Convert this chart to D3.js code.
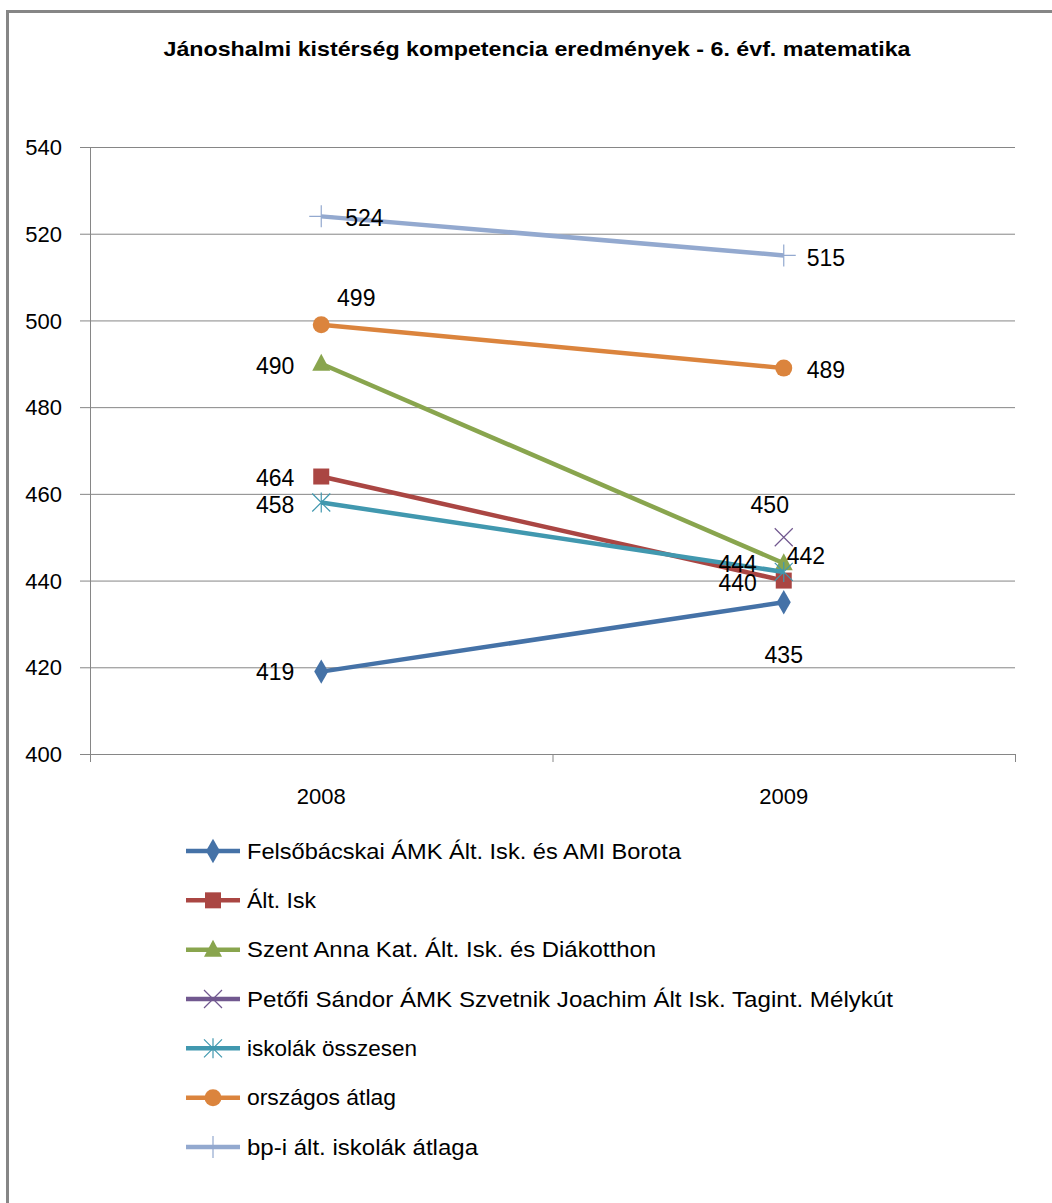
<!DOCTYPE html>
<html>
<head>
<meta charset="utf-8">
<script src="https://cdn.jsdelivr.net/npm/d3@7"></script>
<style>
  body { margin: 0; background: #fff; }
  text { font-family: "Liberation Sans", Arial, sans-serif; fill: #000; }
</style>
</head>
<body>
<script>
// data
const years = ["2008", "2009"];
const seriesNames = [
  "Felsőbácskai ÁMK Ált. Isk. és AMI Borota",
  "Ált. Isk",
  "Szent Anna Kat. Ált. Isk. és Diákotthon",
  "Petőfi Sándor ÁMK Szvetnik Joachim Ált Isk. Tagint. Mélykút",
  "iskolák összesen",
  "országos átlag",
  "bp-i ált. iskolák átlaga"
];
const felsobacskai = [419, 435];
const altIsk = [464, 440];
const szentAnna = [490, 444];
const petofi = [null, 450];
const osszesen = [458, 442];
const orszagos = [499, 489];
const bpAtlag = [524, 515];
const yTicks = [400, 420, 440, 460, 480, 500, 520, 540];

const allValues = [felsobacskai, altIsk, szentAnna, petofi, osszesen, orszagos, bpAtlag];

// styling
const colors = ["#4572A7", "#AA4643", "#89A54E", "#71588F", "#4198AF", "#DB843D", "#93A9CF"];
const markers = ["diamond", "square", "triangle", "x", "star", "circle", "plus"];
// label placement relative to the point: [dx, dy, anchor]
const labelPos = [
  [[-27, 0, "end"], [0, 53, "middle"]],
  [[-27, 1, "end"], [-27, 2, "end"]],
  [[-27, 2, "end"], [-27, 1, "end"]],
  [null, [-14, -32, "middle"]],
  [[-27, 2, "end"], [3, -16, "start"]],
  [[35, -27, "middle"], [23, 2, "start"]],
  [[24, 2, "start"], [23, 3, "start"]]
];
// legend text widths as measured on the picture
const legendWidths = [434, 69, 409, 646, 170, 149, 231];

const W = 1052, H = 1203;
const svg = d3.select("body").append("svg").attr("width", W).attr("height", H);

// outer frame (only top and left visible)
svg.append("line").attr("x1", 6).attr("x2", W).attr("y1", 11.5).attr("y2", 11.5)
  .attr("stroke", "#868686").attr("stroke-width", 3);
svg.append("line").attr("x1", 7.5).attr("x2", 7.5).attr("y1", 10).attr("y2", H)
  .attr("stroke", "#868686").attr("stroke-width", 3);

svg.append("text")
  .attr("x", 537).attr("y", 56)
  .attr("text-anchor", "middle")
  .style("font-size", "21px").style("font-weight", "bold")
  .attr("textLength", 747).attr("lengthAdjust", "spacingAndGlyphs")
  .text("Jánoshalmi kistérség kompetencia eredmények - 6. évf. matematika");

const plotL = 90, plotR = 1015, plotT = 147, plotB = 754;

const x = d3.scaleBand().domain(years).range([plotL, plotR]);
const y = d3.scaleLinear().domain([400, 540]).range([plotB, plotT]);
const cx = d => x(d) + x.bandwidth() / 2;

// grid
const grid = svg.append("g").attr("transform", `translate(${plotL},0)`)
  .call(d3.axisLeft(y).tickValues(yTicks).tickSize(-(plotR - plotL)).tickFormat(""));
grid.select(".domain").remove();
grid.selectAll("line").attr("stroke", "#868686");

// y axis with labels
const yAxis = svg.append("g").attr("transform", `translate(${plotL},0)`)
  .call(d3.axisLeft(y).tickValues(yTicks).tickSize(10).tickPadding(18).tickSizeOuter(0));
yAxis.select(".domain").attr("stroke", "#868686").attr("d", `M0.5,${plotT}V${plotB}`);
yAxis.selectAll("line").attr("stroke", "#868686");
yAxis.selectAll("text").style("font-size", "22px").attr("fill", "#000").attr("dy", "0.35em");

// x axis
const xAxis = svg.append("g").attr("transform", `translate(0,${plotB})`)
  .call(d3.axisBottom(x).tickSize(0).tickPadding(34));
xAxis.select(".domain").remove();
xAxis.selectAll("text").style("font-size", "22px").attr("fill", "#000");
const edges = years.map(d => x(d)).concat([x(years[years.length - 1]) + x.bandwidth()]);
svg.append("g").selectAll("line").data(edges).join("line")
  .attr("x1", d => d + 0.5).attr("x2", d => d + 0.5)
  .attr("y1", plotB).attr("y2", plotB + 8)
  .attr("stroke", "#868686");

function drawMarker(g, type, color) {
  if (type === "diamond") {
    g.append("path").attr("d", d3.symbol(d3.symbolDiamond, 170)()).attr("fill", color);
  } else if (type === "square") {
    g.append("rect").attr("x", -8).attr("y", -8).attr("width", 16).attr("height", 16).attr("fill", color);
  } else if (type === "triangle") {
    g.append("path").attr("d", "M0,-10L9,7L-9,7Z").attr("fill", color);
  } else if (type === "circle") {
    g.append("circle").attr("r", 8.5).attr("fill", color);
  } else if (type === "x") {
    g.append("path").attr("d", "M-9,-9L9,9M-9,9L9,-9").attr("stroke", color).attr("stroke-width", 1.2).attr("fill", "none");
  } else if (type === "star") {
    g.append("path").attr("d", "M-9,-9L9,9M-9,9L9,-9M0,-10V10").attr("stroke", color).attr("stroke-width", 1.2).attr("fill", "none");
  } else if (type === "plus") {
    g.append("path").attr("d", "M-12,0H12M0,-11V11").attr("stroke", color).attr("stroke-width", 1.2).attr("fill", "none");
  }
}

const line = d3.line().defined(d => d.v != null).x(d => cx(d.year)).y(d => y(d.v));

allValues.forEach((vals, si) => {
  const pts = vals.map((v, i) => ({ year: years[i], v: v }));
  svg.append("path").datum(pts)
    .attr("d", line)
    .attr("fill", "none")
    .attr("stroke", colors[si])
    .attr("stroke-width", 4.5);
  pts.forEach(p => {
    if (p.v == null) return;
    const g = svg.append("g").attr("transform", `translate(${cx(p.year)},${y(p.v)})`);
    drawMarker(g, markers[si], colors[si]);
  });
});

// data labels on top
allValues.forEach((vals, si) => {
  vals.forEach((v, i) => {
    if (v == null) return;
    const lp = labelPos[si][i];
    svg.append("text")
      .attr("x", cx(years[i]) + lp[0])
      .attr("y", y(v) + lp[1])
      .attr("dy", "0.35em")
      .attr("text-anchor", lp[2])
      .style("font-size", "23px")
      .text(v);
  });
});

// legend
const legendY = d3.scalePoint().domain(seriesNames).range([851, 1147]);
const legend = svg.append("g");
seriesNames.forEach((name, si) => {
  const ly = legendY(name);
  legend.append("line").attr("x1", 186).attr("x2", 240).attr("y1", ly).attr("y2", ly)
    .attr("stroke", colors[si]).attr("stroke-width", 4.5);
  const g = legend.append("g").attr("transform", `translate(213,${ly})`);
  drawMarker(g, markers[si], colors[si]);
  legend.append("text").attr("x", 247).attr("y", ly).attr("dy", "0.35em")
    .style("font-size", "22px")
    .attr("textLength", legendWidths[si]).attr("lengthAdjust", "spacingAndGlyphs")
    .text(name);
});
</script>
</body>
</html>
